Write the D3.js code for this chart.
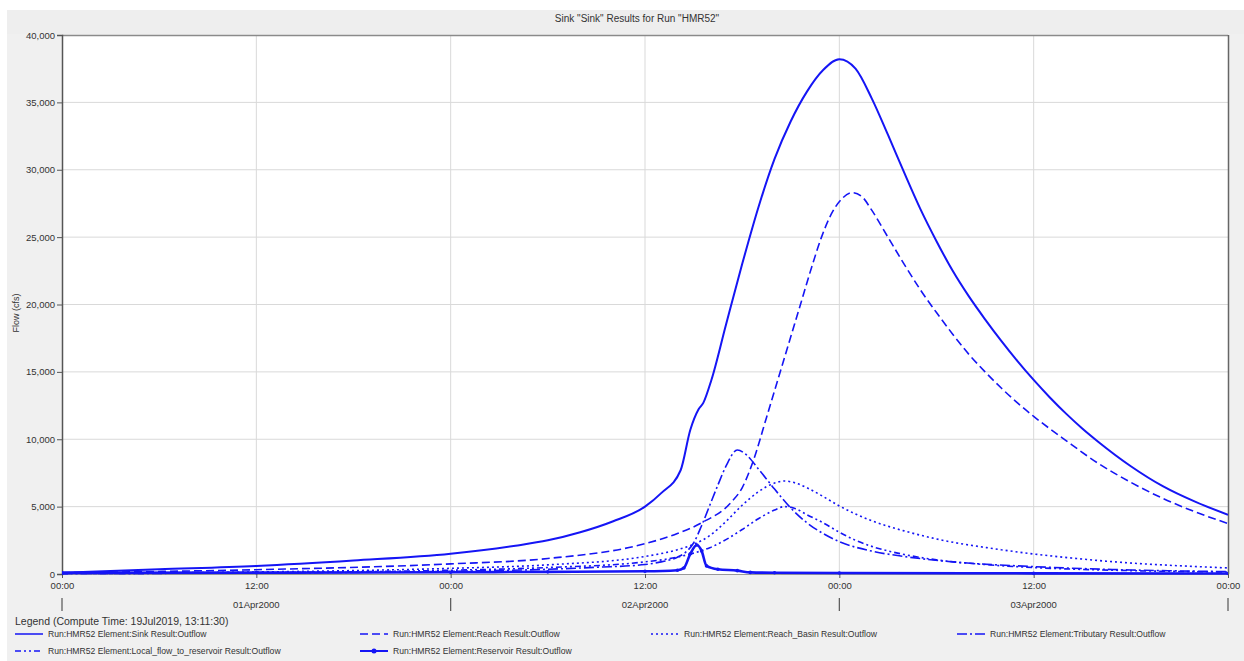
<!DOCTYPE html>
<html>
<head>
<meta charset="utf-8">
<script src="https://cdn.jsdelivr.net/npm/d3@7"></script>
<style>
  html, body { margin: 0; padding: 0; background: #ffffff; }
  svg { display: block; }
  text { font-family: "Liberation Sans", Arial, sans-serif; fill: #333; }
</style>
</head>
<body>
<svg id="chart" width="1244" height="661"></svg>
<script>
// ---- DATA (hours since 01Apr2000 00:00, flow in cfs) ----
const sinkT = [0, 6, 12, 18, 24, 28, 30, 32, 34, 36, 37, 38.2, 38.8, 39.3, 39.6, 40.1, 41, 42, 43, 44, 45, 46, 47, 48, 49, 50, 51, 52, 53, 54, 55, 56, 57, 58, 59, 60, 61, 62, 63, 64, 66, 68, 70, 72];
const sinkV = [100, 350, 600, 1000, 1500, 2100, 2500, 3100, 3900, 5000, 6000, 7700, 10700, 12200, 12700, 14400, 18500, 23000, 27200, 30800, 33600, 35800, 37400, 38200, 37500, 35300, 32600, 29800, 27100, 24700, 22500, 20600, 18900, 17300, 15800, 14400, 13100, 11900, 10800, 9800, 8000, 6500, 5350, 4400];

const reachT = [0, 12, 24, 30, 36, 38, 39.5, 41.3, 42, 42.7, 43.5, 44.2, 45, 45.6, 46.3, 46.9, 47.5, 48.2, 48.8, 49.4, 50, 51, 52, 53, 54, 55, 56, 57, 58, 59, 60, 62, 64, 66, 68, 70, 72];
const reachV = [100, 320, 750, 1150, 2250, 3000, 3800, 5300, 6400, 8450, 11600, 14400, 17600, 20000, 22800, 25000, 26700, 27900, 28300, 28000, 27000, 25000, 23000, 21100, 19400, 17800, 16300, 15000, 13800, 12700, 11700, 9900, 8200, 6800, 5600, 4600, 3750];

const basinT = [0, 12, 24, 30, 36, 38, 39, 40, 41, 42, 43, 44, 44.6, 45.3, 46, 47, 48, 49, 50, 52, 54, 58, 64, 72];
const basinV = [50, 150, 420, 680, 1300, 1800, 2200, 2850, 3900, 5100, 6100, 6750, 6900, 6750, 6400, 5750, 5050, 4450, 3950, 3200, 2600, 1800, 1000, 450];

const tribT = [0, 12, 24, 30, 33, 36, 37, 38, 38.5, 39, 39.5, 40, 40.5, 41, 41.7, 42.3, 43, 44, 45, 46, 47, 48, 50, 52, 55, 60, 66, 72];
const tribV = [30, 80, 200, 350, 500, 700, 900, 1250, 1600, 2300, 3600, 5100, 6600, 8000, 9200, 8800, 7800, 6300, 4900, 3800, 3000, 2400, 1700, 1300, 900, 550, 300, 180];

const localT = [0, 12, 24, 30, 36, 38, 39, 40, 41, 42, 43, 44, 44.6, 45.3, 46, 47, 48, 49, 50, 52, 54, 57, 60, 66, 72];
const localV = [30, 100, 280, 480, 900, 1250, 1550, 1950, 2550, 3300, 4100, 4750, 5000, 4850, 4400, 3800, 3100, 2500, 2050, 1450, 1050, 700, 480, 250, 150];

const resT = [0, 12, 24, 30, 36, 38, 38.4, 38.8, 39.2, 39.5, 39.8, 40.5, 41.7, 42.5, 44, 48, 60, 72];
const resV = [80, 100, 130, 160, 200, 280, 450, 1500, 2150, 1700, 600, 350, 250, 120, 90, 70, 50, 40];

const seriesNames = [
  "Run:HMR52 Element:Sink Result:Outflow",
  "Run:HMR52 Element:Reach Result:Outflow",
  "Run:HMR52 Element:Reach_Basin Result:Outflow",
  "Run:HMR52 Element:Tributary Result:Outflow",
  "Run:HMR52 Element:Local_flow_to_reservoir Result:Outflow",
  "Run:HMR52 Element:Reservoir Result:Outflow"
];

const xTickHours = [0, 12, 24, 36, 48, 60, 72];
const xTickLabels = ["00:00", "12:00", "00:00", "12:00", "00:00", "12:00", "00:00"];
const xDateLabels = ["", "01Apr2000", "", "02Apr2000", "", "03Apr2000", ""];
const yTicks = [0, 5000, 10000, 15000, 20000, 25000, 30000, 35000, 40000];

const titleText = 'Sink "Sink" Results for Run "HMR52"';
const yAxisTitle = "Flow (cfs)";
const legendTitle = "Legend (Compute Time: 19Jul2019, 13:11:30)";

// ---- DRAWING ----
const svg = d3.select("#chart");
const W = 1244, H = 661;
const plot = { left: 62, top: 35, right: 1228, bottom: 574 };
const blue = "#1515f5";

// panel background
svg.append("rect").attr("x", 0).attr("y", 0).attr("width", W).attr("height", H).attr("fill", "#ffffff");
svg.append("rect").attr("x", 7).attr("y", 10).attr("width", W - 7).attr("height", H - 10).attr("fill", "#f0f0f0");
svg.append("rect").attr("x", 7).attr("y", 10).attr("width", W - 7).attr("height", 24).attr("fill", "#eeeeee");

const x = d3.scaleLinear().domain([0, 72]).range([plot.left, plot.right]);
const y = d3.scaleLinear().domain([0, 40000]).range([plot.bottom, plot.top]);

// plot area
svg.append("rect")
  .attr("x", plot.left).attr("y", plot.top)
  .attr("width", plot.right - plot.left).attr("height", plot.bottom - plot.top)
  .attr("fill", "#ffffff");

// grid
const grid = svg.append("g");
grid.selectAll("line.h").data(yTicks.slice(1, -1)).enter().append("line")
  .attr("x1", plot.left).attr("x2", plot.right)
  .attr("y1", d => y(d)).attr("y2", d => y(d))
  .attr("stroke", "#d9d9d9").attr("stroke-width", 1);
grid.selectAll("line.v").data(xTickHours.slice(1, -1)).enter().append("line")
  .attr("x1", d => x(d)).attr("x2", d => x(d))
  .attr("y1", plot.top).attr("y2", plot.bottom)
  .attr("stroke", "#d9d9d9").attr("stroke-width", 1);

// border
svg.append("line").attr("x1", plot.left).attr("x2", plot.right).attr("y1", plot.top + 0.5).attr("y2", plot.top + 0.5)
  .attr("stroke", "#8a8a8a").attr("stroke-width", 1.5);
svg.append("line").attr("x1", plot.right + 0.5).attr("x2", plot.right + 0.5).attr("y1", plot.top).attr("y2", plot.bottom)
  .attr("stroke", "#666").attr("stroke-width", 1.5);
svg.append("line").attr("x1", plot.left).attr("x2", plot.right).attr("y1", plot.bottom + 0.5).attr("y2", plot.bottom + 0.5)
  .attr("stroke", "#999").attr("stroke-width", 1);

// y axis
const yAxis = d3.axisLeft(y).tickValues(yTicks).tickFormat(d3.format(",")).tickSize(5).tickPadding(2);
const yg = svg.append("g").attr("transform", `translate(${plot.left},0)`).call(yAxis);
yg.select(".domain").attr("stroke", "#555").attr("stroke-width", 1.5);
yg.selectAll(".tick line").attr("stroke", "#555");
yg.selectAll(".tick text").attr("font-size", "9.5px").attr("fill", "#333")
  .attr("font-family", '"Liberation Sans", Arial, sans-serif');

// x axis
const xAxis = d3.axisBottom(x).tickValues(xTickHours).tickFormat((d, i) => xTickLabels[i]).tickSize(4).tickPadding(4);
const xg = svg.append("g").attr("transform", `translate(0,${plot.bottom})`).call(xAxis);
xg.select(".domain").remove();
xg.selectAll(".tick line").attr("stroke", "#555");
xg.selectAll(".tick text").attr("font-size", "9.5px").attr("fill", "#333")
  .attr("font-family", '"Liberation Sans", Arial, sans-serif');

// date labels and day separators
const dateG = svg.append("g");
xTickHours.forEach((h, i) => {
  if (xDateLabels[i]) {
    dateG.append("text").attr("x", x(h)).attr("y", 608).attr("text-anchor", "middle")
      .attr("font-size", "9.5px").text(xDateLabels[i]);
  } else {
    dateG.append("line").attr("x1", x(h)).attr("x2", x(h)).attr("y1", 598).attr("y2", 611)
      .attr("stroke", "#555").attr("stroke-width", 1.2);
  }
});

// title
svg.append("text").attr("x", 637).attr("y", 22).attr("text-anchor", "middle")
  .attr("font-size", "10px").attr("fill", "#222").text(titleText);

// y axis title
svg.append("text").attr("transform", "translate(19,313) rotate(-90)").attr("text-anchor", "middle")
  .attr("font-size", "9px").attr("fill", "#444").text(yAxisTitle);

// lines
const dashes = ["", "8,4", "2,3", "10,3,2,3", "6,3,2,3,2,3", ""];
const widths = [2, 1.6, 1.6, 1.6, 1.6, 2.6];
const allT = [sinkT, reachT, basinT, tribT, localT, resT];
const allV = [sinkV, reachV, basinV, tribV, localV, resV];

svg.append("clipPath").attr("id", "clip").append("rect")
  .attr("x", plot.left).attr("y", plot.top - 2)
  .attr("width", plot.right - plot.left).attr("height", plot.bottom - plot.top + 4);

const lineGen = d3.line().x(d => x(d[0])).y(d => y(d[1])).curve(d3.curveMonotoneX);
const linesG = svg.append("g").attr("clip-path", "url(#clip)");
for (let s = allT.length - 1; s >= 0; s--) {
  const pts = allT[s].map((t, i) => [t, allV[s][i]]);
  linesG.append("path").datum(pts).attr("d", lineGen)
    .attr("fill", "none").attr("stroke", blue).attr("stroke-width", widths[s])
    .attr("stroke-dasharray", dashes[s] || null)
    .attr("stroke-linejoin", "round");
  if (s === 5) {
    linesG.selectAll("circle.res").data(pts).enter().append("circle")
      .attr("cx", d => x(d[0])).attr("cy", d => y(d[1])).attr("r", 1.8).attr("fill", blue);
  }
}

// legend
svg.append("text").attr("x", 15).attr("y", 625).attr("font-size", "10.5px").attr("fill", "#333").text(legendTitle);
const legPos = [
  [15, 634], [360, 634], [651, 634], [957, 634],
  [15, 651], [360, 651]
];
seriesNames.forEach((name, i) => {
  const [lx, ly] = legPos[i];
  const g = svg.append("g");
  g.append("line").attr("x1", lx).attr("x2", lx + 28).attr("y1", ly).attr("y2", ly)
    .attr("stroke", blue).attr("stroke-width", i === 5 ? 2 : 1.5)
    .attr("stroke-dasharray", dashes[i] || null);
  if (i === 5) g.append("circle").attr("cx", lx + 14).attr("cy", ly).attr("r", 2.5).attr("fill", blue);
  g.append("text").attr("x", lx + 33).attr("y", ly + 3).attr("font-size", "8.6px").attr("fill", "#333").text(name);
});
</script>
</body>
</html>
